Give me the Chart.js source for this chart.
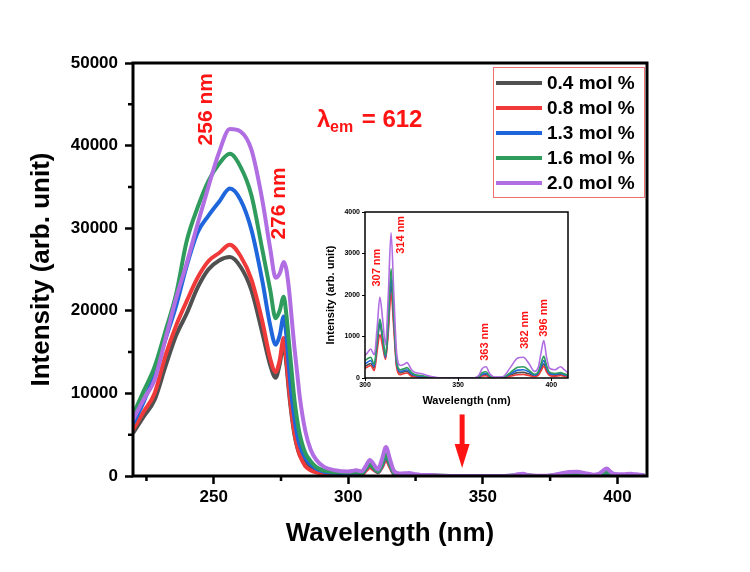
<!DOCTYPE html>
<html>
<head>
<meta charset="utf-8">
<script src="https://cdn.jsdelivr.net/npm/chart.js@4.4.1/dist/chart.umd.min.js"></script>
<style>
  html, body { margin: 0; padding: 0; background: #fff; }
  #wrap { position: relative; width: 750px; height: 572px; }
  #mainChart { position: absolute; left: 0; top: 0; }
  #insetChart { position: absolute; left: 300px; top: 195px; }
</style>
</head>
<body>
<div id="wrap">
  <canvas id="mainChart" width="750" height="572"></canvas>
  <canvas id="insetChart" width="280" height="220"></canvas>
</div>
<script>
// wavelength grid (nm) shared by all spectra
const wavelengths = [220, 224, 228, 232, 236, 240, 244, 248, 252, 256,
  260, 264, 268, 271, 273, 274.5, 276, 277, 278, 279,
  280, 281, 282, 284, 286, 288, 291, 295, 300, 302,
  303, 305, 306.5, 308, 309.5, 311, 312.5, 314, 315.5, 317,
  319, 321, 322.5, 325, 327, 330, 335, 340, 350, 358,
  361, 363, 365, 367, 370, 374, 378, 382, 385, 388,
  391, 393, 394.5, 396, 397.5, 399, 402, 405, 407, 410];

const seriesNames = ['0.4 mol %', '0.8 mol %', '1.3 mol %', '1.6 mol %', '2.0 mol %'];
const seriesColors = ['#505050', '#f03a3a', '#1f66dc', '#2f9c5e', '#b06ee2'];

const int04 = [5200, 7200, 9200, 13200, 17000, 19700, 22800, 25000, 26100, 26500,
  25300, 22500, 17400, 13400, 11900, 13500, 16000, 13500, 10000, 7200,
  5000, 3500, 2500, 1500, 900, 600, 350, 300, 290, 330,
  350, 230, 800, 1300, 900, 480, 1200, 2250, 1300, 300,
  120, 150, 160, 70, 40, 30, 10, 0, 0, 0,
  15, 70, 80, 30, 5, 5, 70, 130, 135, 100,
  50, 90, 220, 340, 190, 90, 70, 80, 60, 20];

const int08 = [5600, 7800, 10000, 14500, 18200, 21200, 24000, 26000, 27000, 28000,
  26600, 23800, 18800, 14200, 12600, 14000, 16700, 14000, 10500, 7500,
  5200, 3600, 2500, 1200, 700, 450, 280, 220, 240, 280,
  300, 180, 650, 1050, 750, 450, 1100, 2050, 1150, 250,
  80, 110, 120, 40, 30, 20, 5, 0, 0, 0,
  10, 50, 55, 20, 0, 0, 40, 80, 85, 60,
  30, 60, 170, 280, 150, 60, 40, 60, 40, 10];

const int13 = [6300, 9000, 12400, 16500, 20600, 25500, 29500, 31500, 33200, 34800,
  33400, 29800, 23700, 18200, 15900, 17000, 19300, 17000, 13000, 9500,
  7000, 5000, 3700, 2200, 1400, 900, 500, 380, 350, 400,
  420, 280, 850, 1350, 950, 500, 1300, 2430, 1400, 350,
  160, 180, 200, 100, 60, 40, 15, 0, 0, 0,
  20, 90, 110, 40, 5, 10, 100, 190, 200, 150,
  70, 120, 280, 420, 240, 110, 90, 110, 80, 30];

const int16 = [7400, 10300, 13200, 17500, 22000, 28500, 32500, 35700, 37800, 39000,
  37400, 34000, 27500, 22500, 19100, 20000, 21700, 19500, 16000, 12500,
  9200, 6800, 5000, 2800, 1800, 1100, 650, 480, 430, 480,
  500, 330, 900, 1420, 1000, 550, 1400, 2630, 1500, 400,
  200, 220, 250, 130, 80, 60, 20, 0, 0, 0,
  30, 130, 150, 50, 10, 15, 130, 260, 270, 190,
  90, 150, 350, 520, 300, 140, 110, 130, 100, 40];

const int20 = [6800, 9300, 11600, 16500, 21500, 25800, 30500, 35000, 39200, 42000,
  41700, 39500, 33500, 27500, 24000, 24500, 25900, 25000, 22500, 19000,
  15500, 12500, 9500, 5500, 3200, 2000, 1100, 700, 550, 650,
  700, 560, 1200, 1950, 1400, 800, 2000, 3500, 2000, 600,
  300, 330, 370, 200, 130, 110, 40, 5, 0, 0,
  60, 230, 270, 100, 20, 30, 250, 480, 500, 350,
  160, 250, 600, 900, 500, 240, 200, 270, 200, 80];

const seriesValues = [int04, int08, int13, int16, int20];

// axis ticks
const mainYTicks = [0, 10000, 20000, 30000, 40000, 50000];
const mainXTicks = [250, 300, 350, 400];
const mainXMinor = [225, 275, 325, 375];
const mainYMinor = [5000, 15000, 25000, 35000, 45000];
const insetYTicks = [0, 1000, 2000, 3000, 4000];
const insetXTicks = [300, 350, 400];

// peak labels, in data units
const mainPeakLabels = [
  { text: '256 nm', x: 247.3, y: 44400 },
  { text: '276 nm', x: 274.4, y: 33000 }
];
const insetPeakLabels = [
  { text: '307 nm', x: 306.3, y: 2660 },
  { text: '314 nm', x: 319.1, y: 3450 },
  { text: '363 nm', x: 364.6, y: 870 },
  { text: '382 nm', x: 385.7, y: 1160 },
  { text: '396 nm', x: 396.1, y: 1450 }
];

const FONT = '"Liberation Sans", Arial, Helvetica, sans-serif';
const RED = '#ff1414';
Chart.defaults.font.family = FONT;
Chart.defaults.color = '#000';

document.addEventListener('DOMContentLoaded', () =>
{
    const plainNumber = v => String(v);

    const makeDatasets = (width) => seriesNames.map((name, i) => ({
        label: name,
        data: wavelengths.map((w, k) => ({ x: w, y: seriesValues[i][k] })),
        borderColor: seriesColors[i],
        backgroundColor: seriesColors[i],
        borderWidth: width,
        pointRadius: 0,
        cubicInterpolationMode: 'monotone',
        order: seriesNames.length - i
    }));

    const rotatedText = (ctx, text, px, py, size) =>
    {
        ctx.save();
        ctx.translate(px, py);
        ctx.rotate(-Math.PI / 2);
        ctx.font = `bold ${size}px ${FONT}`;
        ctx.fillStyle = RED;
        ctx.textAlign = 'center';
        ctx.textBaseline = 'middle';
        ctx.fillText(text, 0, 0);
        ctx.restore();
    };

    // frame, minor ticks, labels, arrow and legend of the main chart
    const mainDecor = {
        id: 'mainDecor',
        afterDraw(chart)
        {
            const { ctx, chartArea: a, scales: { x, y } } = chart;
            ctx.save();
            ctx.strokeStyle = '#000';
            ctx.lineWidth = 2.5;
            ctx.beginPath();
            mainXMinor.forEach(v =>
            {
                const px = x.getPixelForValue(v);
                ctx.moveTo(px, a.bottom);
                ctx.lineTo(px, a.bottom + 5);
            });
            mainYMinor.forEach(v =>
            {
                const py = y.getPixelForValue(v);
                ctx.moveTo(a.left, py);
                ctx.lineTo(a.left - 5, py);
            });
            ctx.stroke();
            ctx.lineWidth = 3;
            ctx.strokeRect(a.left, a.top, a.right - a.left, a.bottom - a.top);

            mainPeakLabels.forEach(p => rotatedText(ctx, p.text, x.getPixelForValue(p.x), y.getPixelForValue(p.y), 21));

            // lambda_em label
            const lx = x.getPixelForValue(288.4);
            const ly = y.getPixelForValue(42250);
            ctx.fillStyle = RED;
            ctx.textAlign = 'left';
            ctx.textBaseline = 'alphabetic';
            ctx.font = `bold 24px ${FONT}`;
            ctx.fillText('λ', lx, ly);
            ctx.font = `bold 16px ${FONT}`;
            ctx.fillText('em', lx + 13, ly + 5);
            ctx.font = `bold 24px ${FONT}`;
            ctx.fillText(' = 612', lx + 38, ly);

            // excitation arrow
            const ax = x.getPixelForValue(342.3);
            const aTop = y.getPixelForValue(7450);
            const aTip = y.getPixelForValue(970);
            ctx.fillRect(ax - 2.5, aTop, 5, aTip - aTop - 22);
            ctx.beginPath();
            ctx.moveTo(ax - 7.5, aTip - 24);
            ctx.lineTo(ax + 7.5, aTip - 24);
            ctx.lineTo(ax, aTip);
            ctx.closePath();
            ctx.fill();

            // legend box
            const bx = 493, by = 67, bw = 151, bh = 130;
            ctx.fillStyle = '#fff';
            ctx.fillRect(bx, by, bw, bh);
            ctx.strokeStyle = '#f07070';
            ctx.lineWidth = 1;
            ctx.strokeRect(bx + 0.5, by + 0.5, bw, bh);
            ctx.font = `bold 19px ${FONT}`;
            ctx.textBaseline = 'middle';
            seriesNames.forEach((name, i) =>
            {
                const ry = 83 + i * 25;
                ctx.strokeStyle = seriesColors[i];
                ctx.lineWidth = 4;
                ctx.beginPath();
                ctx.moveTo(496, ry);
                ctx.lineTo(542, ry);
                ctx.stroke();
                ctx.fillStyle = '#000';
                ctx.fillText(name, 547, ry + 1);
            });
            ctx.restore();
        }
    };

    const insetDecor = {
        id: 'insetDecor',
        afterDraw(chart)
        {
            const { ctx, chartArea: a, scales: { x, y } } = chart;
            ctx.save();
            ctx.strokeStyle = '#000';
            ctx.lineWidth = 1.5;
            ctx.strokeRect(a.left, a.top, a.right - a.left, a.bottom - a.top);
            insetPeakLabels.forEach(p => rotatedText(ctx, p.text, x.getPixelForValue(p.x), y.getPixelForValue(p.y), 11));
            ctx.restore();
        }
    };

    const initMainChart = () =>
    {
        const ctx = document.getElementById('mainChart').getContext('2d');
        return new Chart(ctx, {
            type: 'line',
            data: { datasets: makeDatasets(4) },
            options: {
                responsive: false,
                animation: false,
                devicePixelRatio: 1,
                layout: { padding: { left: 0, top: 63, right: 103, bottom: 0 } },
                plugins: { legend: { display: false }, tooltip: { enabled: false } },
                scales: {
                    x: {
                        type: 'linear',
                        min: 220,
                        max: 411,
                        afterFit: s => { s.height = 96; },
                        afterBuildTicks: s => { s.ticks = mainXTicks.map(v => ({ value: v })); },
                        border: { display: false },
                        grid: { drawOnChartArea: false, drawTicks: true, tickLength: 8, tickWidth: 2.5, tickColor: '#000' },
                        ticks: { padding: 3, font: { size: 17, weight: 'bold' }, color: '#000', callback: plainNumber },
                        title: {
                            display: true,
                            text: 'Wavelength (nm)',
                            font: { size: 26, weight: 'bold' },
                            padding: { bottom: 23 },
                            color: '#000'
                        }
                    },
                    y: {
                        min: 0,
                        max: 50000,
                        afterFit: s => { s.width = 133; },
                        afterBuildTicks: s => { s.ticks = mainYTicks.map(v => ({ value: v })); },
                        border: { display: false },
                        grid: { drawOnChartArea: false, drawTicks: true, tickLength: 8, tickWidth: 2.5, tickColor: '#000' },
                        ticks: { padding: 7, font: { size: 17, weight: 'bold' }, color: '#000', callback: plainNumber },
                        title: {
                            display: true,
                            text: 'Intensity (arb. unit)',
                            font: { size: 26, weight: 'bold' },
                            padding: { top: 26 },
                            color: '#000'
                        }
                    }
                }
            },
            plugins: [mainDecor]
        });
    };

    const initInsetChart = () =>
    {
        const ctx = document.getElementById('insetChart').getContext('2d');
        return new Chart(ctx, {
            type: 'line',
            data: { datasets: makeDatasets(1.6) },
            options: {
                responsive: false,
                animation: false,
                devicePixelRatio: 1,
                layout: { padding: { left: 0, top: 17, right: 12, bottom: 0 } },
                plugins: { legend: { display: false }, tooltip: { enabled: false } },
                scales: {
                    x: {
                        type: 'linear',
                        min: 300,
                        max: 409,
                        afterFit: s => { s.height = 37; },
                        afterBuildTicks: s => { s.ticks = insetXTicks.map(v => ({ value: v })); },
                        border: { display: false },
                        grid: { drawOnChartArea: false, drawTicks: true, tickLength: 3, tickWidth: 1, tickColor: '#000' },
                        ticks: { padding: 0, font: { size: 7, weight: 'bold' }, color: '#000', callback: plainNumber },
                        title: {
                            display: true,
                            text: 'Wavelength (nm)',
                            font: { size: 11, weight: 'bold' },
                            padding: { bottom: 7 },
                            color: '#000'
                        }
                    },
                    y: {
                        min: 0,
                        max: 4000,
                        afterFit: s => { s.width = 65; },
                        afterBuildTicks: s => { s.ticks = insetYTicks.map(v => ({ value: v })); },
                        border: { display: false },
                        grid: { drawOnChartArea: false, drawTicks: true, tickLength: 3, tickWidth: 1, tickColor: '#000' },
                        ticks: { padding: 2, font: { size: 7, weight: 'bold' }, color: '#000', callback: plainNumber },
                        title: {
                            display: true,
                            text: 'Intensity (arb. unit)',
                            font: { size: 11, weight: 'bold' },
                            padding: { top: 24 },
                            color: '#000'
                        }
                    }
                }
            },
            plugins: [insetDecor]
        });
    };

    initMainChart();
    initInsetChart();
});
</script>
</body>
</html>
